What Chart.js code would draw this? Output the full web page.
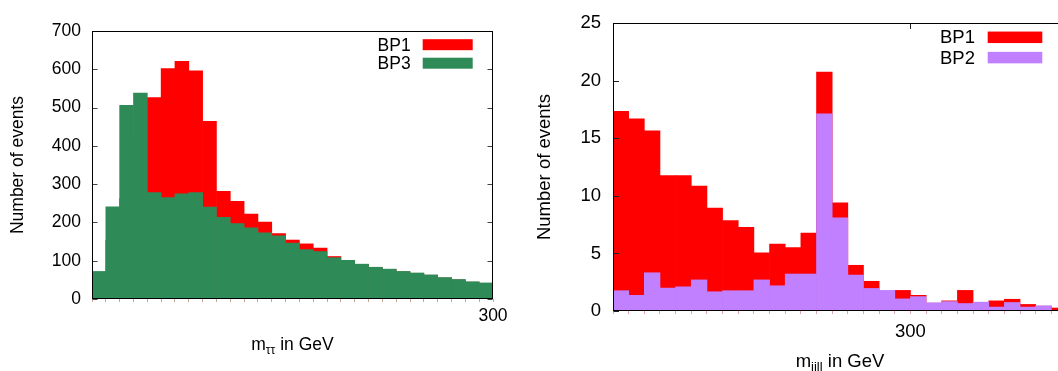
<!DOCTYPE html>
<html><head><meta charset="utf-8">
<script src="https://cdn.jsdelivr.net/npm/chart.js@4.4.1/dist/chart.umd.min.js"></script>
<style>
html,body{margin:0;padding:0;overflow:hidden;width:1058px;height:371px;background:#fff}
#c1{position:absolute;left:0;top:0}
#c2{position:absolute;left:530px;top:0}
</style></head><body>
<canvas id="c1" width="530" height="371"></canvas>
<canvas id="c2" width="560" height="371"></canvas>
<script>
// ---------- data: left panel (m_tautau) ----------
const mttBinCenters = [15,25,35,45,55,65,75,85,95,105,115,125,135,145,155,165,175,185,195,205,215,225,235,245,255,265,275,285,295];
const mttBP1 = [55,153,262,420,526,602,621,596,464,281,255,222,201,171,154,144,133,111,100,90,82,77,71,67,62,55,50,44,41];
const mttBP3 = [72,241,506,538,278,265,275,278,240,213,197,186,173,165,146,129,124,108,101,91,83,78,72,68,63,56,51,45,42];
const mttLabeledTicks = [300];
const mttXTitle = ['m', 'ττ', ' in GeV'];

// ---------- data: right panel (m_jjll) ----------
const mjjllBinCenters = [115,125,135,145,155,165,175,185,195,205,215,225,235,245,255,265,275,285,295,305,315,325,335,345,355,365,375,385,395];
const mjjllBP1 = [17.34,16.69,15.64,11.75,11.75,10.84,8.94,7.86,7.27,5.05,5.82,5.51,6.76,20.75,9.40,3.97,2.58,1.70,1.79,1.36,0.68,0.88,1.79,0.74,0.88,1.02,0.57,0.42,0.26];
const mjjllBP2 = [1.76,1.36,3.32,1.99,2.10,2.70,1.67,1.76,1.76,2.70,2.19,3.21,3.21,17.12,8.09,3.12,1.96,1.79,1.05,1.25,0.71,0.82,0.65,0.77,0.34,0.74,0.34,0.45,0.00];
const mjjllLabeledTicks = [300];
const mjjllXTitle = ['m', 'jjll', ' in GeV'];

const yTitle = 'Number of events';
const FONT = '"Liberation Sans", Arial, Helvetica, sans-serif';

const toPts = (xs, ys) => xs.map((x, i) => ({x, y: ys[i]}));

const gpPlugin = {
  id: 'gp',
  afterDraw(chart, args, o) {
    const {ctx, chartArea: a, scales: {x, y}} = chart;
    const L = Math.round(a.left) + 0.5, R = Math.round(a.right) - 0.5;
    const T = Math.round(a.top) + 0.5, B = Math.round(a.bottom) - 0.5;
    ctx.save();
    ctx.lineWidth = 1;
    ctx.strokeStyle = o.tickColor;
    ctx.beginPath();
    y.ticks.forEach(t => {
      const py = Math.round(y.getPixelForValue(t.value)) + 0.5;
      ctx.moveTo(L, py); ctx.lineTo(L + o.tickLen, py);
      ctx.moveTo(R, py); ctx.lineTo(R - o.tickLen, py);
    });
    o.topTicks.forEach(v => {
      const px = Math.round(x.getPixelForValue(v)) + 0.5;
      ctx.moveTo(px, T); ctx.lineTo(px, T + o.tickLen);
    });
    ctx.stroke();
    ctx.strokeStyle = '#000';
    ctx.strokeRect(L, T, R - L, B - T);
    // legend (text left, swatch right, gnuplot style)
    const lg = o.legend;
    ctx.font = `${o.fontSize}px ${FONT}`;
    ctx.textAlign = 'right'; ctx.textBaseline = 'middle';
    chart.data.datasets.forEach((ds, i) => {
      const cy = a.top + lg.row0 + i * lg.gap;
      ctx.fillStyle = '#000';
      ctx.fillText(ds.label, a.right - lg.textRight, cy + 1);
      ctx.fillStyle = ds.backgroundColor;
      ctx.fillRect(a.right - lg.swLeft, cy - lg.swH / 2, lg.swW, lg.swH);
    });
    // x title with subscript
    const [m, sub, rest] = o.xTitle;
    const bigF = `${o.fontSize}px ${FONT}`, subF = `${o.subSize}px ${FONT}`;
    ctx.font = bigF; const wm = ctx.measureText(m).width, wr = ctx.measureText(rest).width;
    ctx.font = subF; const ws = ctx.measureText(sub).width;
    let sx = (a.left + a.right) / 2 - (wm + ws + wr) / 2;
    ctx.textAlign = 'left'; ctx.textBaseline = 'alphabetic'; ctx.fillStyle = '#000';
    ctx.font = bigF; ctx.fillText(m, sx, o.titleBase); sx += wm;
    ctx.font = subF; ctx.fillText(sub, sx, o.titleBase + o.subDrop); sx += ws;
    ctx.font = bigF; ctx.fillText(rest, sx, o.titleBase);
    ctx.restore();
  }
};

function makeChart(id, cfg) {
  return new Chart(document.getElementById(id), {
    type: 'bar',
    data: {
      datasets: [
        {label: cfg.names[0], data: toPts(cfg.centers, cfg.back), backgroundColor: cfg.colors[0], order: 1,
         borderWidth: 0, barPercentage: 1, categoryPercentage: 1},
        {label: cfg.names[1], data: toPts(cfg.centers, cfg.front), backgroundColor: cfg.colors[1], order: 0,
         borderWidth: 0, barPercentage: 1, categoryPercentage: 1}
      ]
    },
    options: {
      responsive: false, animation: false, devicePixelRatio: 1,
      layout: {padding: cfg.padding},
      plugins: {
        legend: {display: false}, tooltip: {enabled: false},
        gp: cfg.gp
      },
      scales: {
        x: {
          type: 'linear', min: cfg.xmin, max: cfg.xmax, offset: false, stacked: true,
          ticks: {stepSize: 10, maxTicksLimit: 100, autoSkip: false, maxRotation: 0, color: '#000',
                  padding: cfg.xPad, font: {family: FONT, size: cfg.fs},
                  callback: v => cfg.labeled.includes(v) ? String(v) : ''},
          grid: {display: true, drawOnChartArea: false, drawTicks: true, tickLength: 3, tickColor: cfg.minorColor, offset: false},
          border: {display: false},
          afterFit: s => { s.height = cfg.xH; }
        },
        y: {
          min: 0, max: cfg.ymax, stacked: false,
          ticks: {stepSize: cfg.ystep, padding: cfg.yPad, color: '#000', font: {family: FONT, size: cfg.fs}},
          grid: {display: false, drawTicks: false},
          border: {display: false},
          title: {display: true, text: yTitle, color: '#000', font: {family: FONT, size: cfg.fs},
                  padding: {top: cfg.yTitlePad, bottom: 0}},
          afterFit: s => { s.width = cfg.yW; }
        }
      }
    },
    plugins: [gpPlugin]
  });
}

makeChart('c1', {
  names: ['BP1', 'BP3'], colors: ['#ff0000', '#2e8b57'],
  centers: mttBinCenters, back: mttBP1, front: mttBP3,
  xmin: 10, xmax: 300, ymax: 700, ystep: 100, labeled: mttLabeledTicks,
  fs: 17.5, xPad: 4, yPad: 11, yW: 92, xH: 72, yTitlePad: 7.5, minorColor: '#c9a393',
  padding: {left: 0, top: 31, right: 37, bottom: 0},
  gp: {tickColor: '#444', tickLen: 5, topTicks: [], fontSize: 17.5, subSize: 12,
       xTitle: mttXTitle, titleBase: 350, subDrop: 4,
       legend: {textRight: 82.3, swLeft: 70.3, swW: 50, swH: 11, row0: 13.7, gap: 18.5}}
});

makeChart('c2', {
  names: ['BP1', 'BP2'], colors: ['#ff0000', '#c080ff'],
  centers: mjjllBinCenters, back: mjjllBP1, front: mjjllBP2,
  xmin: 110, xmax: 400, ymax: 25, ystep: 5, labeled: mjjllLabeledTicks,
  fs: 18.5, xPad: 7, yPad: 12, yW: 83, xH: 60, yTitlePad: 4, minorColor: '#e0a0c0',
  padding: {left: 0, top: 18, right: 23, bottom: 0},
  gp: {tickColor: '#222', tickLen: 5.5, topTicks: mjjllLabeledTicks, fontSize: 18.5, subSize: 13,
       xTitle: mjjllXTitle, titleBase: 366.7, subDrop: 4.5,
       legend: {textRight: 92, swLeft: 79.3, swW: 54.6, swH: 11.5, row0: 14.2, gap: 20.3}}
});
</script>
</body></html>
